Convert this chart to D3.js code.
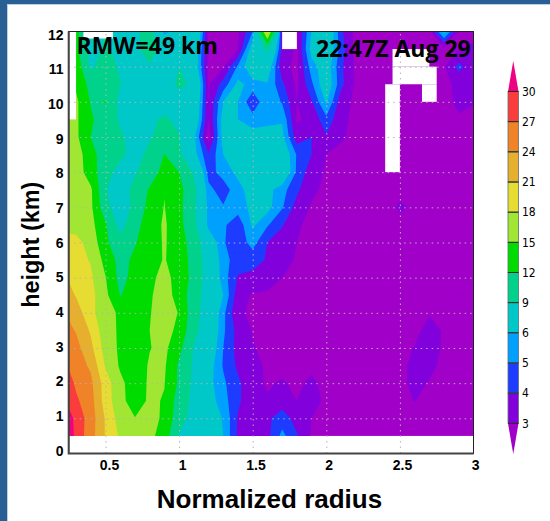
<!DOCTYPE html>
<html>
<head>
<meta charset="utf-8">
<style>
  html, body { margin: 0; padding: 0; background: #fff; }
  svg { display: block; }
  text { font-family: "Liberation Sans", Arial, sans-serif; fill: #000; }
</style>
</head>
<body>
<svg id="chart" width="550" height="521"></svg>
<script src="https://cdn.jsdelivr.net/npm/d3@7"></script>
<script>
const radii = [0.2, 0.3, 0.4, 0.5, 0.6, 0.7, 0.8, 0.9, 1.0, 1.1, 1.2, 1.3, 1.4, 1.5, 1.6, 1.7, 1.8, 1.9, 2.0, 2.1, 2.2, 2.3, 2.4, 2.5, 2.6, 2.7, 2.8, 2.9, 3.0]
const heights = [0.5, 1, 1.5, 2, 2.5, 3, 3.5, 4, 4.5, 5, 5.5, 6, 6.5, 7, 7.5, 8, 8.5, 9, 9.5, 10, 10.5, 11, 11.5, 12]

// one row per height, one value per radius
const values = [
  [36, 29, 25.3, 20.8, 17.5, 16.3, 15.8, 13.6, 8.8, 8, 7, 6, 3.8, 3.4, 3.7, 5.3, 4.1, 2.9, 2.6, 2.7, 2.7, 2.7, 2.7, 2.7, 2.7, 2.7, 2.7, 2.7, 2.7],
  [34, 29, 25.5, 20.7, 16.5, 15.1, 15.8, 14.6, 10, 8, 7, 5.9, 3.9, 3.5, 3.8, 4.5, 3.6, 3, 2.7, 2.7, 2.7, 2.7, 2.7, 2.7, 2.8, 2.7, 2.7, 2.7, 2.7],
  [31, 27.5, 25.2, 19.6, 15.9, 13.5, 15.5, 14.8, 10.5, 8.3, 6.6, 5.4, 4.2, 3.2, 3.1, 3.5, 3, 3.4, 2.8, 2.7, 2.7, 2.7, 2.7, 2.8, 3.02, 2.8, 2.7, 2.7, 2.7],
  [30, 26.5, 24.7, 19.5, 15.7, 13.5, 15.4, 15.1, 11.5, 8.3, 6.4, 5.2, 4.2, 3.3, 2.9, 3.1, 2.8, 3.2, 2.7, 2.7, 2.7, 2.7, 2.7, 2.8, 3.2, 2.95, 2.7, 2.7, 2.7],
  [28, 25.5, 23.5, 17.7, 14.6, 13.4, 15.3, 15.4, 11.5, 8.6, 6.6, 4.9, 3.8, 3.2, 2.9, 2.7, 2.7, 2.8, 2.7, 2.7, 2.7, 2.7, 2.7, 2.8, 3.2, 3.2, 2.8, 2.7, 2.7],
  [27.5, 25, 21.8, 16.7, 14.5, 13.3, 14.9, 15.7, 12.8, 8.8, 7.2, 5, 3.6, 3.05, 2.8, 2.7, 2.7, 2.7, 2.7, 2.7, 2.7, 2.7, 2.7, 2.8, 3.03, 3.3, 2.9, 2.7, 2.7],
  [25.5, 23.8, 20.6, 16.1, 14.6, 13.3, 15, 16.2, 14.2, 9.7, 7.6, 5.2, 3.6, 2.95, 2.8, 2.7, 2.7, 2.7, 2.7, 2.7, 2.7, 2.7, 2.7, 2.7, 2.85, 3.2, 2.95, 2.7, 2.7],
  [24.5, 22.5, 19, 15.7, 14.7, 13.5, 14.8, 16.8, 14.8, 10, 7.6, 5.3, 3.1, 2.9, 2.9, 2.8, 2.7, 2.7, 2.7, 2.7, 2.7, 2.7, 2.7, 2.7, 2.8, 2.95, 2.8, 2.7, 2.7],
  [23, 20.8, 19, 15.7, 11.9, 13, 14.6, 16.5, 13.7, 10.4, 7.6, 6, 3.4, 2.9, 2.9, 2.8, 2.7, 2.7, 2.7, 2.7, 2.7, 2.7, 2.7, 2.7, 2.7, 2.7, 2.7, 3.02, 2.7],
  [21.6, 20, 18.5, 15.1, 11, 13, 14.4, 15.8, 14, 11, 7.7, 5.5, 3.9, 3.7, 3.3, 3, 2.8, 2.7, 2.7, 2.7, 2.7, 2.7, 2.7, 2.7, 2.7, 2.7, 2.7, 2.7, 2.7],
  [20, 19, 17.8, 14, 11, 12.6, 13.8, 15.2, 13.5, 11, 7.5, 5.4, 4.5, 4.4, 3.9, 3.4, 2.9, 2.7, 2.7, 2.7, 2.7, 2.7, 2.7, 2.7, 2.7, 2.7, 2.7, 2.7, 2.7],
  [19.5, 18.8, 17, 12.6, 10, 11.8, 13.5, 15.3, 13.4, 10.6, 7.2, 5.1, 4.4, 5.4, 4, 3.4, 3, 2.8, 2.7, 2.7, 2.7, 2.7, 2.7, 2.7, 2.7, 2.7, 2.7, 2.7, 2.7],
  [17, 17, 16, 12.3, 8, 11, 13.5, 15.4, 13, 9.6, 5.6, 5.2, 4.3, 6.2, 5.1, 4.1, 3.1, 2.8, 2.7, 2.7, 2.7, 2.7, 2.7, 2.8, 2.8, 2.7, 2.7, 2.7, 2.7],
  [16.5, 16.2, 15.6, 10, 7.2, 9.8, 13, 15.1, 12.8, 9.4, 5.6, 5.1, 5.5, 6.3, 6.4, 5.1, 3.6, 2.9, 2.7, 2.7, 2.7, 2.7, 2.7, 3.1, 2.9, 2.7, 2.7, 2.7, 2.7],
  [17, 16.8, 15.5, 9.2, 7.3, 10, 12.3, 14.9, 13, 9.7, 5.3, 4.5, 5.6, 6.6, 6.4, 5.4, 4.2, 3.2, 2.8, 2.7, 2.7, 2.7, 2.7, 2.8, 2.8, 2.7, 2.7, 2.7, 2.7],
  [17.5, 16.7, 13.4, 10.2, 7.8, 8.7, 10.5, 13, 12, 8.7, 4.6, 5.4, 6.3, 7.5, 8, 7.5, 4.8, 3.4, 2.9, 2.7, 2.7, 2.7, 2.7, 2.7, 2.7, 2.7, 2.7, 2.7, 2.7],
  [20, 16.6, 13, 10.5, 9.6, 8, 9.7, 12.05, 9.5, 6.5, 4.1, 6, 7, 7.5, 8, 7.2, 4.9, 4, 3, 2.8, 2.7, 2.7, 2.7, 2.7, 2.7, 2.7, 2.7, 2.7, 2.7],
  [16, 15.6, 12, 10.5, 9.3, 8.3, 8.8, 9.8, 9.1, 6.3, 2.5, 6.5, 7, 6.6, 7, 6.3, 3.4, 4, 3.9, 3.1, 2.8, 2.7, 2.7, 2.7, 2.7, 2.7, 2.7, 2.7, 2.7],
  [15, 15.5, 12.4, 10.5, 8.7, 8, 8.6, 9.3, 8.5, 7.5, 3, 6.5, 6, 5.4, 5.4, 5.9, 2.9, 3.2, 4.7, 3.2, 2.8, 2.7, 2.7, 2.7, 2.7, 2.7, 2.7, 2.9, 2.8],
  [16, 15.6, 11.8, 12.1, 8, 8, 8, 8.1, 8.4, 8, 3, 6, 6, 4.2, 5.9, 4.9, 3, 3.9, 6.2, 3.4, 2.8, 2.7, 2.7, 2.7, 2.7, 2.7, 2.7, 3.2, 3.05],
  [16, 14.5, 11, 10.5, 9.1, 8, 8.2, 8.2, 9.3, 8.7, 2.9, 4.4, 6.3, 5.6, 5.9, 4.2, 2.8, 4.8, 7, 4.3, 2.8, 2.7, 2.7, 2.7, 2.7, 2.7, 2.7, 3.3, 3.3],
  [16, 14, 8.5, 10.5, 8.5, 8, 8.8, 8.6, 9, 7.2, 2.7, 2.9, 5.2, 7, 7, 3.3, 2.8, 5.5, 6.8, 4.2, 2.8, 2.7, 2.7, 2.7, 2.7, 2.7, 2.9, 4.3, 3.3],
  [16, 13, 7.5, 9.5, 8.2, 8.5, 10, 8, 8.5, 7.5, 2.7, 2.7, 3, 6.8, 9.5, 3.7, 2.8, 6.5, 7.5, 4.5, 2.7, 2.7, 2.7, 2.7, 2.7, 2.7, 2.6, 3, 3.1],
  [16, 13, 8, 9, 8, 8.5, 10, 5.5, 7, 9, 2.6, 2.7, 2.8, 5, 19, 2.9, 2.9, 6, 7.8, 4.2, 2.7, 2.7, 2.7, 2.7, 2.7, 2.7, 6.5, 2.9, 2.8]
]

const levels = [3, 4, 5, 6, 9, 12, 15, 18, 21, 24, 27, 30]
const levelColors = ["#8200dc", "#1e3cff", "#00a0ff", "#00c8c8", "#00d28c", "#00dc00", "#a0e632", "#e6dc32", "#e6af2d", "#f08228", "#fa3c3c", "#f00082"]
const belowColor = "#a000c8"

// no-data boxes: [r0, r1, z0, z1]
const missing = [
  [0.25, 0.3, 9.5, 12],
  [0.35, 0.55, 11.8, 12],
  [1.7, 1.8, 11.5, 12],
  [2.4, 2.5, 8, 10.5],
  [2.45, 2.7, 11, 11.5],
  [2.45, 2.75, 10.5, 11],
  [2.65, 2.75, 10, 10.5]
]

const xTicks = [0.5, 1, 1.5, 2, 2.5, 3]
const yTicks = [0, 1, 2, 3, 4, 5, 6, 7, 8, 9, 10, 11, 12]

const svg = d3.select("#chart")

// slide frame
svg.append("rect").attr("width", 550).attr("height", 4).attr("fill", "#2a5f95")
svg.append("rect").attr("width", 7).attr("height", 521).attr("fill", "#2a5f95")
svg.append("rect").attr("x", 7).attr("y", 4).attr("width", 1).attr("height", 517).attr("fill", "#bdd0e2")
svg.append("rect").attr("x", 7).attr("y", 4).attr("width", 543).attr("height", 1).attr("fill", "#bdd0e2")

const x = d3.scaleLinear().domain([0.25, 3]).range([68.7, 473.5])
const y = d3.scaleLinear().domain([0, 12]).range([453.5, 31.5])
const xLabel = d3.scaleLinear().domain([0.5, 3]).range([109.5, 475.7])
const yLabel = d3.scaleLinear().domain([0, 12]).range([450.7, 34.7])

svg.append("clipPath").attr("id", "plot-clip")
  .append("rect")
  .attr("x", x(0.25)).attr("y", y(12))
  .attr("width", x(3) - x(0.25)).attr("height", y(0.5) - y(12))

const plot = svg.append("g").attr("clip-path", "url(#plot-clip)")

plot.append("rect")
  .attr("x", x(0.25)).attr("y", y(12))
  .attr("width", x(3) - x(0.25)).attr("height", y(0.5) - y(12))
  .attr("fill", belowColor)

// d3.contours puts grid point i at i + 0.5
const rAt = d3.scaleLinear().domain([0.5, radii.length - 0.5]).range([radii[0], radii[radii.length - 1]])
const zAt = d3.scaleLinear().domain([0.5, heights.length - 0.5]).range([heights[0], heights[heights.length - 1]])
const path = d3.geoPath(d3.geoTransform({
  point(cx, cy) { this.stream.point(x(rAt(cx)), y(zAt(cy))) }
}))

const contours = d3.contours()
  .size([radii.length, heights.length])
  .thresholds(levels)(values.flat())

plot.selectAll("path.band")
  .data(contours)
  .join("path")
  .attr("class", "band")
  .attr("d", path)
  .attr("fill", (d, i) => levelColors[i])

plot.selectAll("rect.missing")
  .data(missing)
  .join("rect")
  .attr("class", "missing")
  .attr("x", d => x(d[0]))
  .attr("y", d => y(d[3]))
  .attr("width", d => x(d[1]) - x(d[0]))
  .attr("height", d => y(d[2]) - y(d[3]))
  .attr("fill", "#fff")

// dotted grid
svg.append("g")
  .attr("transform", `translate(0,${y(0)})`)
  .call(d3.axisBottom(x).tickValues(xTicks.slice(0, -1)).tickSize(y(12) - y(0)).tickFormat(""))
  .call(g => g.select(".domain").remove())
  .call(g => g.selectAll(".tick line").attr("stroke", "#b4b4b4").attr("stroke-dasharray", "1.5,4"))

svg.append("g")
  .attr("transform", `translate(${x(0.25)},0)`)
  .call(d3.axisLeft(y).tickValues(yTicks.slice(1, -1)).tickSize(x(0.25) - x(3)).tickFormat(""))
  .call(g => g.select(".domain").remove())
  .call(g => g.selectAll(".tick line").attr("stroke", "#b4b4b4").attr("stroke-dasharray", "1.5,4"))

// frame
svg.append("rect")
  .attr("x", x(0.25)).attr("y", y(12))
  .attr("width", x(3) - x(0.25)).attr("height", y(0) - y(12))
  .attr("fill", "none").attr("stroke", "#222").attr("stroke-width", 1)
svg.append("path")
  .attr("d", `M${x(0.25)},${y(12)}V${y(0)}H${x(3)}`)
  .attr("fill", "none").attr("stroke", "#444").attr("stroke-width", 2)

svg.selectAll("text.xtick")
  .data(xTicks)
  .join("text")
  .attr("class", "xtick")
  .attr("x", d => xLabel(d))
  .attr("y", 470)
  .attr("text-anchor", "middle")
  .attr("font-size", 14)
  .attr("font-weight", "bold")
  .text(d => d)

svg.selectAll("text.ytick")
  .data(yTicks)
  .join("text")
  .attr("class", "ytick")
  .attr("x", 63.5)
  .attr("y", d => yLabel(d))
  .attr("dy", "0.36em")
  .attr("text-anchor", "end")
  .attr("font-size", 14)
  .attr("font-weight", "bold")
  .text(d => d)

svg.append("text")
  .attr("x", 269.5).attr("y", 508)
  .attr("text-anchor", "middle")
  .attr("font-size", 26)
  .attr("font-weight", "bold")
  .text("Normalized radius")

svg.append("text")
  .attr("transform", "translate(39.3,244.7) rotate(-90)")
  .attr("text-anchor", "middle")
  .attr("font-size", 23.4)
  .attr("font-weight", "bold")
  .text("height (km)")

svg.append("text")
  .attr("x", 76.5).attr("y", 53.5)
  .attr("font-size", 23)
  .attr("font-weight", "bold")
  .style("font-family", "'Open Sans', sans-serif")
  .text("RMW=49 km")

svg.append("text")
  .attr("x", 316).attr("y", 56.5)
  .attr("font-size", 23)
  .attr("font-weight", "bold")
  .style("font-family", "'Open Sans', sans-serif")
  .text("22:47Z Aug 29")

// colour bar
const barLeft = 508
const barRight = 518.5
const barMid = (barLeft + barRight) / 2
const barY = d3.scalePoint().domain(levels).range([423.3, 91.5])

const bar = svg.append("g")
bar.selectAll("rect")
  .data(levels.slice(0, -1))
  .join("rect")
  .attr("x", barLeft)
  .attr("y", (d, i) => barY(levels[i + 1]))
  .attr("width", barRight - barLeft)
  .attr("height", (d, i) => barY(d) - barY(levels[i + 1]))
  .attr("fill", (d, i) => levelColors[i])
  .attr("stroke", "#5f6f74")
  .attr("stroke-width", 0.8)

bar.append("path")
  .attr("d", `M${barLeft},${barY(30)}L${barMid},61L${barRight},${barY(30)}Z`)
  .attr("fill", levelColors[levelColors.length - 1])
bar.append("path")
  .attr("d", `M${barLeft},${barY(3)}L${barMid},454L${barRight},${barY(3)}Z`)
  .attr("fill", belowColor)

bar.selectAll("line")
  .data(levels)
  .join("line")
  .attr("x1", barLeft).attr("x2", barRight)
  .attr("y1", d => barY(d)).attr("y2", d => barY(d))
  .attr("stroke", "#1a2a20")
  .attr("stroke-width", 1)

bar.selectAll("text")
  .data(levels)
  .join("text")
  .attr("x", 522)
  .attr("y", d => barY(d))
  .attr("dy", "0.36em")
  .attr("font-size", 12)
  .style("font-family", "'Liberation Sans Narrow', 'DejaVu Sans Condensed', sans-serif")
  .text(d => d)
</script>
</body>
</html>
